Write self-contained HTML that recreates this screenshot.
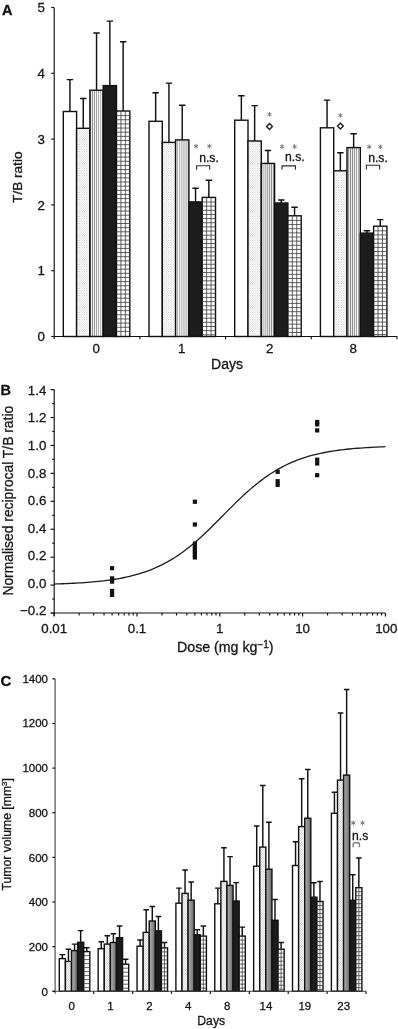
<!DOCTYPE html>
<html><head><meta charset="utf-8"><title>Figure</title>
<style>
html,body{margin:0;padding:0;background:#fff;}
body{width:398px;height:1029px;overflow:hidden;}
svg{display:block;filter:grayscale(1);}
text{font-family:"Liberation Sans",sans-serif;fill:#161616;stroke:#161616;stroke-width:0.3px;}
.b{font-weight:bold;font-size:14.5px;fill:#111;stroke:#111;stroke-width:0.3px;}
.t13{font-size:13.3px;}
.t12{font-size:12.2px;}
.t11{font-size:11.5px;}
.ax{stroke:#111;stroke-width:1.15;fill:none;}
.bar{stroke:#111;stroke-width:1.4;}
.gl{stroke:#3a3a3a;stroke-width:0.8;fill:none;}
.err{stroke:#111;stroke-width:1.45;fill:none;}

</style></head><body>
<svg width="398" height="1029" viewBox="0 0 398 1029">
<defs>
<pattern id="pdot" width="2.4" height="2.4" patternUnits="userSpaceOnUse"><rect width="2.4" height="2.4" fill="#fff"/><rect x="0" y="0" width="0.9" height="0.9" fill="#c6c6c6"/><rect x="1.2" y="1.2" width="0.9" height="0.9" fill="#c6c6c6"/></pattern>
<pattern id="pvs" width="2.08" height="4" patternUnits="userSpaceOnUse"><rect width="2.08" height="4" fill="#fff"/><rect x="0.5" y="0" width="0.85" height="4" fill="#808080"/></pattern>
<pattern id="cdot" width="2" height="1.7" patternUnits="userSpaceOnUse"><rect width="2" height="1.7" fill="#fff"/><rect x="0" y="0" width="0.8" height="0.7" fill="#bcbcbc"/><rect x="1" y="0.85" width="0.8" height="0.7" fill="#bcbcbc"/></pattern>
<linearGradient id="cgray" x1="0" x2="1" y1="0" y2="0"><stop offset="0" stop-color="#b4b4b4"/><stop offset="1" stop-color="#686868"/></linearGradient>
</defs>
<rect width="398" height="1029" fill="#fff"/>

<g id="panelA">
<text class="b" x="2" y="15.2">A</text>
<path class="err" d="M69.95 111.5V79.6M66.75 79.6H73.15"/>
<rect class="bar" x="63.3" y="111.5" width="13.3" height="225" fill="#fff"/>
<path class="err" d="M83.25 128.3V98.4M80.05 98.4H86.45"/>
<rect class="bar" x="76.6" y="128.3" width="13.3" height="208.2" fill="url(#pdot)"/>
<path class="err" d="M96.55 90.2V33M93.35 33H99.75"/>
<rect class="bar" x="89.9" y="90.2" width="13.3" height="246.3" fill="url(#pvs)"/>
<path class="err" d="M109.85 85.6V21.1M106.65 21.1H113.05"/>
<rect class="bar" x="103.2" y="85.6" width="13.3" height="250.9" fill="#1c1c1c"/>
<path class="err" d="M123.15 111V41.8M119.95 41.8H126.35"/>
<rect class="bar" x="116.5" y="111" width="13.3" height="225.5" fill="#fff"/>
<path class="gl" d="M120.93 111V336.5M125.37 111V336.5M116.5 115.6H129.8M116.5 119.75H129.8M116.5 123.9H129.8M116.5 128.05H129.8M116.5 132.2H129.8M116.5 136.35H129.8M116.5 140.5H129.8M116.5 144.65H129.8M116.5 148.8H129.8M116.5 152.95H129.8M116.5 157.1H129.8M116.5 161.25H129.8M116.5 165.4H129.8M116.5 169.55H129.8M116.5 173.7H129.8M116.5 177.85H129.8M116.5 182H129.8M116.5 186.15H129.8M116.5 190.3H129.8M116.5 194.45H129.8M116.5 198.6H129.8M116.5 202.75H129.8M116.5 206.9H129.8M116.5 211.05H129.8M116.5 215.2H129.8M116.5 219.35H129.8M116.5 223.5H129.8M116.5 227.65H129.8M116.5 231.8H129.8M116.5 235.95H129.8M116.5 240.1H129.8M116.5 244.25H129.8M116.5 248.4H129.8M116.5 252.55H129.8M116.5 256.7H129.8M116.5 260.85H129.8M116.5 265H129.8M116.5 269.15H129.8M116.5 273.3H129.8M116.5 277.45H129.8M116.5 281.6H129.8M116.5 285.75H129.8M116.5 289.9H129.8M116.5 294.05H129.8M116.5 298.2H129.8M116.5 302.35H129.8M116.5 306.5H129.8M116.5 310.65H129.8M116.5 314.8H129.8M116.5 318.95H129.8M116.5 323.1H129.8M116.5 327.25H129.8M116.5 331.4H129.8"/>
<path class="err" d="M155.65 121.3V92.7M152.45 92.7H158.85"/>
<rect class="bar" x="149" y="121.3" width="13.3" height="215.2" fill="#fff"/>
<path class="err" d="M168.95 142.4V83.1M165.75 83.1H172.15"/>
<rect class="bar" x="162.3" y="142.4" width="13.3" height="194.1" fill="url(#pdot)"/>
<path class="err" d="M182.25 139.9V105.2M179.05 105.2H185.45"/>
<rect class="bar" x="175.6" y="139.9" width="13.3" height="196.6" fill="url(#pvs)"/>
<path class="err" d="M195.55 201.9V188.3M192.35 188.3H198.75"/>
<rect class="bar" x="188.9" y="201.9" width="13.3" height="134.6" fill="#1c1c1c"/>
<path class="err" d="M208.85 197.4V180.3M205.65 180.3H212.05"/>
<rect class="bar" x="202.2" y="197.4" width="13.3" height="139.1" fill="#fff"/>
<path class="gl" d="M206.63 197.4V336.5M211.07 197.4V336.5M202.2 202H215.5M202.2 206.15H215.5M202.2 210.3H215.5M202.2 214.45H215.5M202.2 218.6H215.5M202.2 222.75H215.5M202.2 226.9H215.5M202.2 231.05H215.5M202.2 235.2H215.5M202.2 239.35H215.5M202.2 243.5H215.5M202.2 247.65H215.5M202.2 251.8H215.5M202.2 255.95H215.5M202.2 260.1H215.5M202.2 264.25H215.5M202.2 268.4H215.5M202.2 272.55H215.5M202.2 276.7H215.5M202.2 280.85H215.5M202.2 285H215.5M202.2 289.15H215.5M202.2 293.3H215.5M202.2 297.45H215.5M202.2 301.6H215.5M202.2 305.75H215.5M202.2 309.9H215.5M202.2 314.05H215.5M202.2 318.2H215.5M202.2 322.35H215.5M202.2 326.5H215.5M202.2 330.65H215.5M202.2 334.8H215.5"/>
<path class="err" d="M241.35 120.2V95.8M238.15 95.8H244.55"/>
<rect class="bar" x="234.7" y="120.2" width="13.3" height="216.3" fill="#fff"/>
<path class="err" d="M254.65 141V105.6M251.45 105.6H257.85"/>
<rect class="bar" x="248" y="141" width="13.3" height="195.5" fill="url(#pdot)"/>
<path class="err" d="M267.95 163.4V150.4M264.75 150.4H271.15"/>
<rect class="bar" x="261.3" y="163.4" width="13.3" height="173.1" fill="url(#pvs)"/>
<path class="err" d="M281.25 203V200M278.05 200H284.45"/>
<rect class="bar" x="274.6" y="203" width="13.3" height="133.5" fill="#1c1c1c"/>
<path class="err" d="M294.55 215.8V207.3M291.35 207.3H297.75"/>
<rect class="bar" x="287.9" y="215.8" width="13.3" height="120.7" fill="#fff"/>
<path class="gl" d="M292.33 215.8V336.5M296.77 215.8V336.5M287.9 220.4H301.2M287.9 224.55H301.2M287.9 228.7H301.2M287.9 232.85H301.2M287.9 237H301.2M287.9 241.15H301.2M287.9 245.3H301.2M287.9 249.45H301.2M287.9 253.6H301.2M287.9 257.75H301.2M287.9 261.9H301.2M287.9 266.05H301.2M287.9 270.2H301.2M287.9 274.35H301.2M287.9 278.5H301.2M287.9 282.65H301.2M287.9 286.8H301.2M287.9 290.95H301.2M287.9 295.1H301.2M287.9 299.25H301.2M287.9 303.4H301.2M287.9 307.55H301.2M287.9 311.7H301.2M287.9 315.85H301.2M287.9 320H301.2M287.9 324.15H301.2M287.9 328.3H301.2M287.9 332.45H301.2"/>
<path class="err" d="M327.05 127.8V100.1M323.85 100.1H330.25"/>
<rect class="bar" x="320.4" y="127.8" width="13.3" height="208.7" fill="#fff"/>
<path class="err" d="M340.35 170.8V152.8M337.15 152.8H343.55"/>
<rect class="bar" x="333.7" y="170.8" width="13.3" height="165.7" fill="url(#pdot)"/>
<path class="err" d="M353.65 147.6V133.7M350.45 133.7H356.85"/>
<rect class="bar" x="347" y="147.6" width="13.3" height="188.9" fill="url(#pvs)"/>
<path class="err" d="M366.95 233.1V230.7M363.75 230.7H370.15"/>
<rect class="bar" x="360.3" y="233.1" width="13.3" height="103.4" fill="#1c1c1c"/>
<path class="err" d="M380.25 226.2V219.6M377.05 219.6H383.45"/>
<rect class="bar" x="373.6" y="226.2" width="13.3" height="110.3" fill="#fff"/>
<path class="gl" d="M378.03 226.2V336.5M382.47 226.2V336.5M373.6 230.8H386.9M373.6 234.95H386.9M373.6 239.1H386.9M373.6 243.25H386.9M373.6 247.4H386.9M373.6 251.55H386.9M373.6 255.7H386.9M373.6 259.85H386.9M373.6 264H386.9M373.6 268.15H386.9M373.6 272.3H386.9M373.6 276.45H386.9M373.6 280.6H386.9M373.6 284.75H386.9M373.6 288.9H386.9M373.6 293.05H386.9M373.6 297.2H386.9M373.6 301.35H386.9M373.6 305.5H386.9M373.6 309.65H386.9M373.6 313.8H386.9M373.6 317.95H386.9M373.6 322.1H386.9M373.6 326.25H386.9M373.6 330.4H386.9M373.6 334.55H386.9"/>
<path class="ax" d="M54.2 7.5V339M51.7 336.5H397"/>
<path class="ax" d="M51.2 336.5H54.2"/>
<text class="t13" x="45" y="341.1" text-anchor="end">0</text>
<path class="ax" d="M51.2 270.7H54.2"/>
<text class="t13" x="45" y="275.3" text-anchor="end">1</text>
<path class="ax" d="M51.2 204.9H54.2"/>
<text class="t13" x="45" y="209.5" text-anchor="end">2</text>
<path class="ax" d="M51.2 139.1H54.2"/>
<text class="t13" x="45" y="143.7" text-anchor="end">3</text>
<path class="ax" d="M51.2 73.3H54.2"/>
<text class="t13" x="45" y="77.9" text-anchor="end">4</text>
<path class="ax" d="M51.2 7.5H54.2"/>
<text class="t13" x="45" y="12.1" text-anchor="end">5</text>
<path class="ax" d="M139.9 336.5V339.3"/>
<path class="ax" d="M225.6 336.5V339.3"/>
<path class="ax" d="M311.3 336.5V339.3"/>
<path class="ax" d="M397 336.5V339.3"/>
<text class="t13" x="96.3" y="353.4" text-anchor="middle">0</text>
<text class="t13" x="181.7" y="353.4" text-anchor="middle">1</text>
<text class="t13" x="269.6" y="353.4" text-anchor="middle">2</text>
<text class="t13" x="353.1" y="353.4" text-anchor="middle">8</text>
<text class="t13" style="font-size:14px" x="227" y="368.6" text-anchor="middle">Days</text>
<text class="t13" style="font-size:13.6px" transform="translate(22.2,177.2) rotate(-90)" text-anchor="middle">T/B ratio</text>
<path d="M196.1 143.8L196.1 148.6M194.02 145L198.18 147.4M198.18 145L194.02 147.4" stroke="#757575" stroke-width="0.95" fill="none"/>
<path d="M209.4 143.8L209.4 148.6M207.32 145L211.48 147.4M211.48 145L207.32 147.4" stroke="#757575" stroke-width="0.95" fill="none"/>
<text class="t12" x="199.2" y="161.5">n.s.</text>
<path d="M196.6 169.8V165.8H209.7V169.8" stroke="#2a2a2a" stroke-width="1.1" fill="none"/>
<path d="M282.1 144.2L282.1 149M280.02 145.4L284.18 147.8M284.18 145.4L280.02 147.8" stroke="#757575" stroke-width="0.95" fill="none"/>
<path d="M294.6 144.2L294.6 149M292.52 145.4L296.68 147.8M296.68 145.4L292.52 147.8" stroke="#757575" stroke-width="0.95" fill="none"/>
<text class="t12" x="285" y="161">n.s.</text>
<path d="M282 169.8V165.9H295.4V169.8" stroke="#2a2a2a" stroke-width="1.1" fill="none"/>
<path d="M369.2 144.4L369.2 149.2M367.12 145.6L371.28 148M371.28 145.6L367.12 148" stroke="#757575" stroke-width="0.95" fill="none"/>
<path d="M380.3 144.4L380.3 149.2M378.22 145.6L382.38 148M382.38 145.6L378.22 148" stroke="#757575" stroke-width="0.95" fill="none"/>
<text class="t12" x="368.2" y="161.5">n.s.</text>
<path d="M366.4 169.6V165.2H379.6V169.6" stroke="#2a2a2a" stroke-width="1.1" fill="none"/>
<path d="M269.5 112L269.5 116.8M267.42 113.2L271.58 115.6M271.58 113.2L267.42 115.6" stroke="#757575" stroke-width="0.95" fill="none"/>
<path d="M266.55 126.5L269.5 123.55L272.45 126.5L269.5 129.45Z" stroke="#1c1c1c" stroke-width="1.35" fill="#fff"/>
<path d="M340.4 113L340.4 117.8M338.32 114.2L342.48 116.6M342.48 114.2L338.32 116.6" stroke="#757575" stroke-width="0.95" fill="none"/>
<path d="M337.45 126.1L340.4 123.15L343.35 126.1L340.4 129.05Z" stroke="#1c1c1c" stroke-width="1.35" fill="#fff"/>
</g>
<g id="panelB">
<text class="b" x="0.6" y="394.8">B</text>
<path class="ax" d="M54.2 389.6V616M51.2 613H385.4"/>
<path class="ax" d="M50.5 613H54.2"/>
<text class="t13" x="46.3" y="615.2" text-anchor="end">−0.2</text>
<path class="ax" d="M52.2 599.04H54.2"/>
<path class="ax" d="M50.5 585.08H54.2"/>
<text class="t13" x="46.3" y="587.66" text-anchor="end">0.0</text>
<path class="ax" d="M52.2 571.11H54.2"/>
<path class="ax" d="M50.5 557.15H54.2"/>
<text class="t13" x="46.3" y="560.12" text-anchor="end">0.2</text>
<path class="ax" d="M52.2 543.19H54.2"/>
<path class="ax" d="M50.5 529.23H54.2"/>
<text class="t13" x="46.3" y="532.59" text-anchor="end">0.4</text>
<path class="ax" d="M52.2 515.26H54.2"/>
<path class="ax" d="M50.5 501.3H54.2"/>
<text class="t13" x="46.3" y="505.05" text-anchor="end">0.6</text>
<path class="ax" d="M52.2 487.34H54.2"/>
<path class="ax" d="M50.5 473.38H54.2"/>
<text class="t13" x="46.3" y="477.51" text-anchor="end">0.8</text>
<path class="ax" d="M52.2 459.41H54.2"/>
<path class="ax" d="M50.5 445.45H54.2"/>
<text class="t13" x="46.3" y="449.98" text-anchor="end">1.0</text>
<path class="ax" d="M52.2 431.49H54.2"/>
<path class="ax" d="M50.5 417.53H54.2"/>
<text class="t13" x="46.3" y="422.44" text-anchor="end">1.2</text>
<path class="ax" d="M52.2 403.56H54.2"/>
<path class="ax" d="M50.5 389.6H54.2"/>
<text class="t13" x="46.3" y="394.9" text-anchor="end">1.4</text>
<path class="ax" d="M54.2 613V616.6"/>
<path class="ax" d="M79.13 613V615.5"/>
<path class="ax" d="M93.71 613V615.5"/>
<path class="ax" d="M104.05 613V615.5"/>
<path class="ax" d="M112.07 613V615.5"/>
<path class="ax" d="M118.63 613V615.5"/>
<path class="ax" d="M124.17 613V615.5"/>
<path class="ax" d="M128.98 613V615.5"/>
<path class="ax" d="M133.21 613V615.5"/>
<path class="ax" d="M137 613V616.6"/>
<path class="ax" d="M161.93 613V615.5"/>
<path class="ax" d="M176.51 613V615.5"/>
<path class="ax" d="M186.85 613V615.5"/>
<path class="ax" d="M194.87 613V615.5"/>
<path class="ax" d="M201.43 613V615.5"/>
<path class="ax" d="M206.97 613V615.5"/>
<path class="ax" d="M211.78 613V615.5"/>
<path class="ax" d="M216.01 613V615.5"/>
<path class="ax" d="M219.8 613V616.6"/>
<path class="ax" d="M244.73 613V615.5"/>
<path class="ax" d="M259.31 613V615.5"/>
<path class="ax" d="M269.65 613V615.5"/>
<path class="ax" d="M277.67 613V615.5"/>
<path class="ax" d="M284.23 613V615.5"/>
<path class="ax" d="M289.77 613V615.5"/>
<path class="ax" d="M294.58 613V615.5"/>
<path class="ax" d="M298.81 613V615.5"/>
<path class="ax" d="M302.6 613V616.6"/>
<path class="ax" d="M327.53 613V615.5"/>
<path class="ax" d="M342.11 613V615.5"/>
<path class="ax" d="M352.45 613V615.5"/>
<path class="ax" d="M360.47 613V615.5"/>
<path class="ax" d="M367.03 613V615.5"/>
<path class="ax" d="M372.57 613V615.5"/>
<path class="ax" d="M377.38 613V615.5"/>
<path class="ax" d="M381.61 613V615.5"/>
<path class="ax" d="M385.4 613V616.6"/>
<text class="t13" x="54.2" y="632.5" text-anchor="middle">0.01</text>
<text class="t13" x="137" y="632.5" text-anchor="middle">0.1</text>
<text class="t13" x="219.8" y="632.5" text-anchor="middle">1</text>
<text class="t13" x="302.6" y="632.5" text-anchor="middle">10</text>
<text class="t13" x="386.3" y="632.5" text-anchor="middle">100</text>
<text class="t13" style="font-size:14.2px" x="177" y="652.2">Dose (mg kg<tspan style="font-size:10px" dy="-4.5">−1</tspan><tspan dy="4.5">)</tspan></text>
<text class="t13" style="font-size:13.85px" transform="translate(12.9,500.7) rotate(-90)" text-anchor="middle">Normalised reciprocal T/B ratio</text>
<path d="M54.2 584.03 L56.96 583.95 L59.72 583.85 L62.48 583.75 L65.24 583.64 L68 583.52 L70.76 583.4 L73.52 583.26 L76.28 583.11 L79.04 582.95 L81.8 582.78 L84.56 582.59 L87.32 582.39 L90.08 582.17 L92.84 581.93 L95.6 581.68 L98.36 581.4 L101.12 581.11 L103.88 580.79 L106.64 580.44 L109.4 580.07 L112.16 579.67 L114.92 579.24 L117.68 578.78 L120.44 578.28 L123.2 577.74 L125.96 577.17 L128.72 576.55 L131.48 575.89 L134.24 575.18 L137 574.42 L139.76 573.61 L142.52 572.74 L145.28 571.81 L148.04 570.82 L150.8 569.77 L153.56 568.65 L156.32 567.46 L159.08 566.19 L161.84 564.85 L164.6 563.43 L167.36 561.93 L170.12 560.34 L172.88 558.68 L175.64 556.93 L178.4 555.09 L181.16 553.17 L183.92 551.16 L186.68 549.07 L189.44 546.89 L192.2 544.64 L194.96 542.31 L197.72 539.91 L200.48 537.43 L203.24 534.9 L206 532.3 L208.76 529.66 L211.52 526.97 L214.28 524.25 L217.04 521.49 L219.8 518.72 L222.56 515.94 L225.32 513.15 L228.08 510.37 L230.84 507.61 L233.6 504.87 L236.36 502.16 L239.12 499.49 L241.88 496.88 L244.64 494.31 L247.4 491.81 L250.16 489.37 L252.92 487 L255.68 484.71 L258.44 482.5 L261.2 480.37 L263.96 478.32 L266.72 476.35 L269.48 474.48 L272.24 472.68 L275 470.98 L277.76 469.35 L280.52 467.81 L283.28 466.35 L286.04 464.98 L288.8 463.67 L291.56 462.44 L294.32 461.29 L297.08 460.2 L299.84 459.18 L302.6 458.22 L305.36 457.33 L308.12 456.49 L310.88 455.7 L313.64 454.97 L316.4 454.29 L319.16 453.65 L321.92 453.05 L324.68 452.5 L327.44 451.98 L330.2 451.5 L332.96 451.06 L335.72 450.64 L338.48 450.26 L341.24 449.9 L344 449.57 L346.76 449.26 L349.52 448.98 L352.28 448.71 L355.04 448.47 L357.8 448.24 L360.56 448.03 L363.32 447.84 L366.08 447.66 L368.84 447.49 L371.6 447.34 L374.36 447.19 L377.12 447.06 L379.88 446.94 L382.64 446.83 L385.4 446.72" stroke="#1c1c1c" stroke-width="1.3" fill="none"/>
<rect x="109.97" y="566.1" width="4.2" height="4.2" fill="#111"/>
<rect x="109.97" y="576.29" width="4.2" height="4.2" fill="#111"/>
<rect x="109.97" y="579.51" width="4.2" height="4.2" fill="#111"/>
<rect x="109.97" y="588.86" width="4.2" height="4.2" fill="#111"/>
<rect x="109.97" y="592.77" width="4.2" height="4.2" fill="#111"/>
<rect x="192.77" y="499.64" width="4.2" height="4.2" fill="#111"/>
<rect x="192.77" y="522.4" width="4.2" height="4.2" fill="#111"/>
<rect x="192.77" y="541.39" width="4.2" height="4.2" fill="#111"/>
<rect x="192.77" y="544.18" width="4.2" height="4.2" fill="#111"/>
<rect x="192.77" y="546.97" width="4.2" height="4.2" fill="#111"/>
<rect x="192.77" y="549.76" width="4.2" height="4.2" fill="#111"/>
<rect x="192.77" y="552.56" width="4.2" height="4.2" fill="#111"/>
<rect x="192.77" y="555.35" width="4.2" height="4.2" fill="#111"/>
<rect x="275.57" y="469.76" width="4.2" height="4.2" fill="#111"/>
<rect x="275.57" y="479.11" width="4.2" height="4.2" fill="#111"/>
<rect x="275.57" y="482.75" width="4.2" height="4.2" fill="#111"/>
<rect x="315.08" y="419.91" width="4.2" height="4.2" fill="#111"/>
<rect x="315.08" y="422.29" width="4.2" height="4.2" fill="#111"/>
<rect x="315.08" y="428.29" width="4.2" height="4.2" fill="#111"/>
<rect x="315.08" y="457.61" width="4.2" height="4.2" fill="#111"/>
<rect x="315.08" y="461.38" width="4.2" height="4.2" fill="#111"/>
<rect x="315.08" y="473.11" width="4.2" height="4.2" fill="#111"/>
</g>
<g id="panelC">
<text class="b" style="font-size:15px" x="0.5" y="686.2">C</text>
<path class="err" d="M62.35 958.6V954.6M59.55 954.6H65.15"/>
<rect class="bar" x="59.3" y="958.6" width="6.1" height="32.7" fill="#fff"/>
<path class="err" d="M68.45 961.4V949.3M65.65 949.3H71.25"/>
<rect class="bar" x="65.4" y="961.4" width="6.1" height="29.9" fill="url(#cdot)"/>
<path class="err" d="M74.55 950.6V944.1M71.75 944.1H77.35"/>
<rect class="bar" x="71.5" y="950.6" width="6.1" height="40.7" fill="url(#cgray)"/>
<path class="err" d="M80.65 942.3V930.6M77.85 930.6H83.45"/>
<rect class="bar" x="77.6" y="942.3" width="6.1" height="49" fill="#1c1c1c"/>
<path class="err" d="M86.75 951.6V947.7M83.95 947.7H89.55"/>
<rect class="bar" x="83.7" y="951.6" width="6.1" height="39.7" fill="#fff"/>
<path class="gl" d="M83.7 955.6H89.8M83.7 959.6H89.8M83.7 963.6H89.8M83.7 967.6H89.8M83.7 971.6H89.8M83.7 975.6H89.8M83.7 979.6H89.8M83.7 983.6H89.8M83.7 987.6H89.8"/>
<path class="err" d="M101.22 948.7V941.7M98.42 941.7H104.02"/>
<rect class="bar" x="98.17" y="948.7" width="6.1" height="42.6" fill="#fff"/>
<path class="err" d="M107.32 944.1V935.7M104.52 935.7H110.12"/>
<rect class="bar" x="104.27" y="944.1" width="6.1" height="47.2" fill="url(#cdot)"/>
<path class="err" d="M113.42 942.5V933.7M110.62 933.7H116.22"/>
<rect class="bar" x="110.37" y="942.5" width="6.1" height="48.8" fill="url(#cgray)"/>
<path class="err" d="M119.52 937.7V926M116.72 926H122.32"/>
<rect class="bar" x="116.47" y="937.7" width="6.1" height="53.6" fill="#1c1c1c"/>
<path class="err" d="M125.62 964.2V959.2M122.82 959.2H128.42"/>
<rect class="bar" x="122.57" y="964.2" width="6.1" height="27.1" fill="#fff"/>
<path class="gl" d="M122.57 968.2H128.67M122.57 972.2H128.67M122.57 976.2H128.67M122.57 980.2H128.67M122.57 984.2H128.67M122.57 988.2H128.67"/>
<path class="err" d="M140.09 946.2V939.9M137.29 939.9H142.89"/>
<rect class="bar" x="137.04" y="946.2" width="6.1" height="45.1" fill="#fff"/>
<path class="err" d="M146.19 932.4V909.7M143.39 909.7H148.99"/>
<rect class="bar" x="143.14" y="932.4" width="6.1" height="58.9" fill="url(#cdot)"/>
<path class="err" d="M152.29 921V906.5M149.49 906.5H155.09"/>
<rect class="bar" x="149.24" y="921" width="6.1" height="70.3" fill="url(#cgray)"/>
<path class="err" d="M158.39 930.9V916.5M155.59 916.5H161.19"/>
<rect class="bar" x="155.34" y="930.9" width="6.1" height="60.4" fill="#1c1c1c"/>
<path class="err" d="M164.49 947.9V942.4M161.69 942.4H167.29"/>
<rect class="bar" x="161.44" y="947.9" width="6.1" height="43.4" fill="#fff"/>
<path d="M164.49 947.9V991.3" stroke="#444" stroke-width="0.8" fill="none"/>
<path class="gl" d="M161.44 951.9H167.54M161.44 955.9H167.54M161.44 959.9H167.54M161.44 963.9H167.54M161.44 967.9H167.54M161.44 971.9H167.54M161.44 975.9H167.54M161.44 979.9H167.54M161.44 983.9H167.54M161.44 987.9H167.54"/>
<path class="err" d="M178.96 903.2V888.1M176.16 888.1H181.76"/>
<rect class="bar" x="175.91" y="903.2" width="6.1" height="88.1" fill="#fff"/>
<path class="err" d="M185.06 893.4V870M182.26 870H187.86"/>
<rect class="bar" x="182.01" y="893.4" width="6.1" height="97.9" fill="url(#cdot)"/>
<path class="err" d="M191.16 900.2V881.9M188.36 881.9H193.96"/>
<rect class="bar" x="188.11" y="900.2" width="6.1" height="91.1" fill="url(#cgray)"/>
<path class="err" d="M197.26 934.8V929.8M194.46 929.8H200.06"/>
<rect class="bar" x="194.21" y="934.8" width="6.1" height="56.5" fill="#1c1c1c"/>
<path class="err" d="M203.36 936.1V926M200.56 926H206.16"/>
<rect class="bar" x="200.31" y="936.1" width="6.1" height="55.2" fill="#fff"/>
<path d="M203.36 936.1V991.3" stroke="#444" stroke-width="0.8" fill="none"/>
<path class="gl" d="M200.31 940.1H206.41M200.31 944.1H206.41M200.31 948.1H206.41M200.31 952.1H206.41M200.31 956.1H206.41M200.31 960.1H206.41M200.31 964.1H206.41M200.31 968.1H206.41M200.31 972.1H206.41M200.31 976.1H206.41M200.31 980.1H206.41M200.31 984.1H206.41M200.31 988.1H206.41"/>
<path class="err" d="M217.83 903.8V888.1M215.03 888.1H220.63"/>
<rect class="bar" x="214.78" y="903.8" width="6.1" height="87.5" fill="#fff"/>
<path class="err" d="M223.93 881.4V847.8M221.13 847.8H226.73"/>
<rect class="bar" x="220.88" y="881.4" width="6.1" height="109.9" fill="url(#cdot)"/>
<path class="err" d="M230.03 885.4V856.6M227.23 856.6H232.83"/>
<rect class="bar" x="226.98" y="885.4" width="6.1" height="105.9" fill="url(#cgray)"/>
<path class="err" d="M236.13 901V882.6M233.33 882.6H238.93"/>
<rect class="bar" x="233.08" y="901" width="6.1" height="90.3" fill="#1c1c1c"/>
<path class="err" d="M242.23 936.1V927.1M239.43 927.1H245.03"/>
<rect class="bar" x="239.18" y="936.1" width="6.1" height="55.2" fill="#fff"/>
<path d="M242.23 936.1V991.3" stroke="#444" stroke-width="0.8" fill="none"/>
<path class="gl" d="M239.18 940.1H245.28M239.18 944.1H245.28M239.18 948.1H245.28M239.18 952.1H245.28M239.18 956.1H245.28M239.18 960.1H245.28M239.18 964.1H245.28M239.18 968.1H245.28M239.18 972.1H245.28M239.18 976.1H245.28M239.18 980.1H245.28M239.18 984.1H245.28M239.18 988.1H245.28"/>
<path class="err" d="M256.7 866.2V826M253.9 826H259.5"/>
<rect class="bar" x="253.65" y="866.2" width="6.1" height="125.1" fill="#fff"/>
<path class="err" d="M262.8 847.1V785.5M260 785.5H265.6"/>
<rect class="bar" x="259.75" y="847.1" width="6.1" height="144.2" fill="url(#cdot)"/>
<path class="err" d="M268.9 869.2V822.2M266.1 822.2H271.7"/>
<rect class="bar" x="265.85" y="869.2" width="6.1" height="122.1" fill="url(#cgray)"/>
<path class="err" d="M275 920.3V899.4M272.2 899.4H277.8"/>
<rect class="bar" x="271.95" y="920.3" width="6.1" height="71" fill="#1c1c1c"/>
<path class="err" d="M281.1 949.2V942.4M278.3 942.4H283.9"/>
<rect class="bar" x="278.05" y="949.2" width="6.1" height="42.1" fill="#fff"/>
<path d="M281.1 949.2V991.3" stroke="#444" stroke-width="0.8" fill="none"/>
<path class="gl" d="M278.05 953.2H284.15M278.05 957.2H284.15M278.05 961.2H284.15M278.05 965.2H284.15M278.05 969.2H284.15M278.05 973.2H284.15M278.05 977.2H284.15M278.05 981.2H284.15M278.05 985.2H284.15M278.05 989.2H284.15"/>
<path class="err" d="M295.57 865.5V841.7M292.77 841.7H298.37"/>
<rect class="bar" x="292.52" y="865.5" width="6.1" height="125.8" fill="#fff"/>
<path class="err" d="M301.67 826.6V778.8M298.87 778.8H304.47"/>
<rect class="bar" x="298.62" y="826.6" width="6.1" height="164.7" fill="url(#cdot)"/>
<path class="err" d="M307.77 818.3V769.5M304.97 769.5H310.57"/>
<rect class="bar" x="304.72" y="818.3" width="6.1" height="173" fill="url(#cgray)"/>
<path class="err" d="M313.87 897.2V882.7M311.07 882.7H316.67"/>
<rect class="bar" x="310.82" y="897.2" width="6.1" height="94.1" fill="#1c1c1c"/>
<path class="err" d="M319.97 901.5V881.4M317.17 881.4H322.77"/>
<rect class="bar" x="316.92" y="901.5" width="6.1" height="89.8" fill="#fff"/>
<path d="M319.97 901.5V991.3" stroke="#444" stroke-width="0.8" fill="none"/>
<path class="gl" d="M316.92 905.5H323.02M316.92 909.5H323.02M316.92 913.5H323.02M316.92 917.5H323.02M316.92 921.5H323.02M316.92 925.5H323.02M316.92 929.5H323.02M316.92 933.5H323.02M316.92 937.5H323.02M316.92 941.5H323.02M316.92 945.5H323.02M316.92 949.5H323.02M316.92 953.5H323.02M316.92 957.5H323.02M316.92 961.5H323.02M316.92 965.5H323.02M316.92 969.5H323.02M316.92 973.5H323.02M316.92 977.5H323.02M316.92 981.5H323.02M316.92 985.5H323.02M316.92 989.5H323.02"/>
<path class="err" d="M334.44 813.3V792.2M331.64 792.2H337.24"/>
<rect class="bar" x="331.39" y="813.3" width="6.1" height="178" fill="#fff"/>
<path class="err" d="M340.54 780.1V713M337.74 713H343.34"/>
<rect class="bar" x="337.49" y="780.1" width="6.1" height="211.2" fill="url(#cdot)"/>
<path class="err" d="M346.64 775.1V689.4M343.84 689.4H349.44"/>
<rect class="bar" x="343.59" y="775.1" width="6.1" height="216.2" fill="url(#cgray)"/>
<path class="err" d="M352.74 900.3V874.8M349.94 874.8H355.54"/>
<rect class="bar" x="349.69" y="900.3" width="6.1" height="91" fill="#1c1c1c"/>
<path class="err" d="M358.84 887.7V858M356.04 858H361.64"/>
<rect class="bar" x="355.79" y="887.7" width="6.1" height="103.6" fill="#fff"/>
<path d="M358.84 887.7V991.3" stroke="#444" stroke-width="0.8" fill="none"/>
<path class="gl" d="M355.79 891.7H361.89M355.79 895.7H361.89M355.79 899.7H361.89M355.79 903.7H361.89M355.79 907.7H361.89M355.79 911.7H361.89M355.79 915.7H361.89M355.79 919.7H361.89M355.79 923.7H361.89M355.79 927.7H361.89M355.79 931.7H361.89M355.79 935.7H361.89M355.79 939.7H361.89M355.79 943.7H361.89M355.79 947.7H361.89M355.79 951.7H361.89M355.79 955.7H361.89M355.79 959.7H361.89M355.79 963.7H361.89M355.79 967.7H361.89M355.79 971.7H361.89M355.79 975.7H361.89M355.79 979.7H361.89M355.79 983.7H361.89M355.79 987.7H361.89"/>
<path class="ax" style="stroke:#444;stroke-width:1.1" d="M55.1 678.8V993.8M52.6 991.3H366"/>
<path class="ax" d="M52.300000000000004 991.3H55.1"/>
<text class="t11" x="48" y="995.6" text-anchor="end">0</text>
<path class="ax" d="M52.300000000000004 946.66H55.1"/>
<text class="t11" x="48" y="950.91" text-anchor="end">200</text>
<path class="ax" d="M52.300000000000004 902.01H55.1"/>
<text class="t11" x="48" y="906.23" text-anchor="end">400</text>
<path class="ax" d="M52.300000000000004 857.37H55.1"/>
<text class="t11" x="48" y="861.54" text-anchor="end">600</text>
<path class="ax" d="M52.300000000000004 812.73H55.1"/>
<text class="t11" x="48" y="816.86" text-anchor="end">800</text>
<path class="ax" d="M52.300000000000004 768.09H55.1"/>
<text class="t11" x="48" y="772.17" text-anchor="end">1000</text>
<path class="ax" d="M52.300000000000004 723.44H55.1"/>
<text class="t11" x="48" y="727.49" text-anchor="end">1200</text>
<path class="ax" d="M52.300000000000004 678.8H55.1"/>
<text class="t11" x="48" y="682.8" text-anchor="end">1400</text>
<path class="ax" d="M93.7 991.3V993.9"/>
<path class="ax" d="M132.6 991.3V993.9"/>
<path class="ax" d="M171.5 991.3V993.9"/>
<path class="ax" d="M210.4 991.3V993.9"/>
<path class="ax" d="M249.3 991.3V993.9"/>
<path class="ax" d="M288.2 991.3V993.9"/>
<path class="ax" d="M327.1 991.3V993.9"/>
<path class="ax" d="M366 991.3V993.9"/>
<text class="t11" x="71.6" y="1010" text-anchor="middle">0</text>
<text class="t11" x="110.47" y="1010" text-anchor="middle">1</text>
<text class="t11" x="149.34" y="1010" text-anchor="middle">2</text>
<text class="t11" x="188.21" y="1010" text-anchor="middle">4</text>
<text class="t11" x="227.08" y="1010" text-anchor="middle">8</text>
<text class="t11" x="265.95" y="1010" text-anchor="middle">14</text>
<text class="t11" x="304.82" y="1010" text-anchor="middle">19</text>
<text class="t11" x="343.69" y="1010" text-anchor="middle">23</text>
<text class="t12" x="211.2" y="1024.8" text-anchor="middle">Days</text>
<text class="t12" transform="translate(10.6,834.3) rotate(-90)" text-anchor="middle">Tumor volume [mm<tspan style="font-size:8px" dy="-3.5">3</tspan><tspan dy="3.5">]</tspan></text>
<path d="M353.3 820.5L353.3 825.3M351.22 821.7L355.38 824.1M355.38 821.7L351.22 824.1" stroke="#757575" stroke-width="0.95" fill="none"/>
<path d="M362.5 820.5L362.5 825.3M360.42 821.7L364.58 824.1M364.58 821.7L360.42 824.1" stroke="#757575" stroke-width="0.95" fill="none"/>
<text class="t12" x="352" y="840.2">n.s</text>
<path d="M353.1 847.3V844.4Q353.1 842.8 354.7 842.8H357.9Q359.5 842.8 359.5 844.4V847.3" stroke="#808080" stroke-width="1.4" fill="none"/>
</g>
</svg></body></html>
